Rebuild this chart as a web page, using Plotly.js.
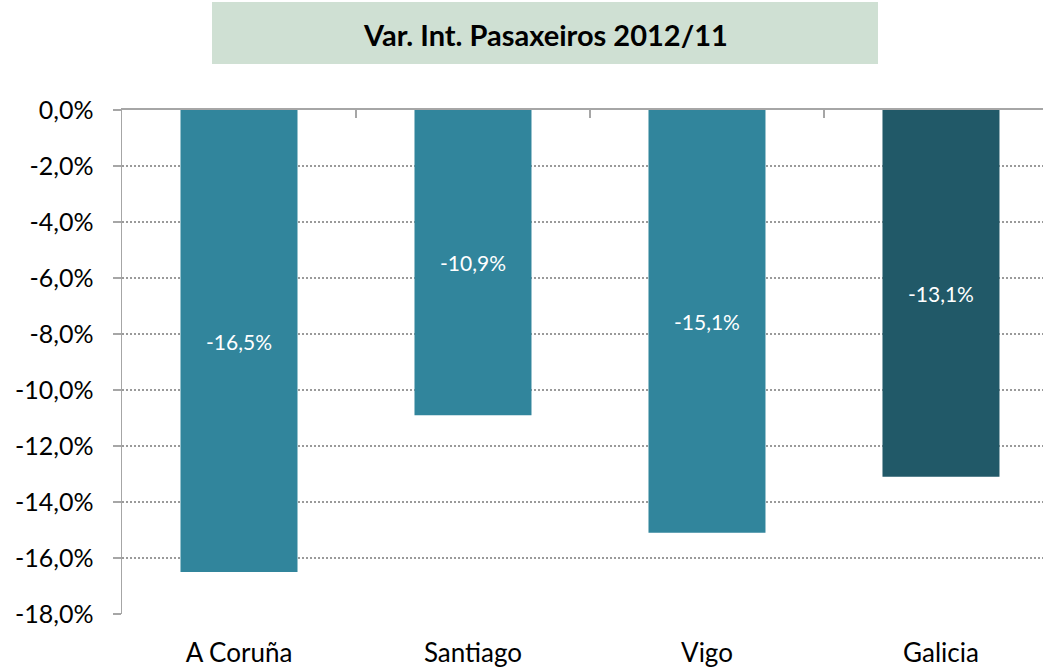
<!DOCTYPE html>
<html>
<head>
<meta charset="utf-8">
<script src="https://cdn.plot.ly/plotly-3.0.1.min.js"></script>
<style>html,body{margin:0;padding:0;background:#fff;}#chart{width:1043px;height:668px;}</style>
</head>
<body>
<div id="chart"></div>
<script>
const categories = ["A Coruña", "Santiago", "Vigo", "Galicia"];
const values = [-16.5, -10.9, -15.1, -13.1];
const valueLabels = ["-16,5%", "-10,9%", "-15,1%", "-13,1%"];
const barColors = ["#31859c", "#31859c", "#31859c", "#215968"];
const yTickVals = [0, -2, -4, -6, -8, -10, -12, -14, -16, -18];
const yTickText = ["0,0%", "-2,0%", "-4,0%", "-6,0%", "-8,0%", "-10,0%", "-12,0%", "-14,0%", "-16,0%", "-18,0%"];
const chartTitle = "Var. Int. Pasaxeiros 2012/11";

const font = "Lato, 'Open Sans', sans-serif";
const xRange = [-0.5, 3.436];

const data = [{
  type: "bar",
  x: [0, 1, 2, 3],
  y: values,
  width: 0.5,
  marker: {color: barColors, line: {width: 0}},
  text: valueLabels,
  textposition: "inside",
  insidetextanchor: "middle",
  textangle: 0,
  textfont: {family: font, size: 21, color: "#ffffff"},
  constraintext: "none",
  hoverinfo: "none"
}, {
  type: "scatter",
  x: [0],
  y: [0],
  xaxis: "x2",
  mode: "none",
  showlegend: false,
  hoverinfo: "none"
}];

const layout = {
  width: 1043,
  height: 668,
  margin: {l: 122, r: 0, t: 110, b: 54, pad: 0},
  paper_bgcolor: "#ffffff",
  plot_bgcolor: "#ffffff",
  showlegend: false,
  font: {family: font, color: "#000000"},
  xaxis: {
    range: xRange,
    tickvals: [0, 1, 2, 3],
    ticktext: categories,
    showline: false,
    showgrid: false,
    zeroline: false,
    ticks: "",
    tickfont: {family: font, size: 26, color: "#000"},
    ticklabelstandoff: 21,
    fixedrange: true
  },
  xaxis2: {
    overlaying: "x",
    side: "top",
    range: xRange,
    showline: true,
    linecolor: "#a6a6a6",
    linewidth: 2,
    ticks: "inside",
    ticklen: 8,
    tickwidth: 1.5,
    tickcolor: "#a6a6a6",
    tickvals: [-0.5, 0.5, 1.5, 2.5],
    showticklabels: false,
    showgrid: false,
    zeroline: false
  },
  yaxis: {
    range: [-18, 0],
    tickvals: yTickVals,
    ticktext: yTickText,
    showline: true,
    linecolor: "#a6a6a6",
    linewidth: 1.5,
    ticks: "outside",
    ticklen: 8,
    tickwidth: 1.5,
    tickcolor: "#a6a6a6",
    showgrid: true,
    gridcolor: "#9a9a9a",
    griddash: "2px,2px",
    gridwidth: 1.5,
    zeroline: false,
    tickfont: {family: font, size: 25, color: "#000"},
    ticklabelstandoff: 14,
    fixedrange: true
  },
  shapes: [{
    type: "rect",
    xref: "paper", yref: "paper",
    x0: (212 - 122) / 921, x1: (878 - 122) / 921,
    y0: 1 + (110 - 64) / 504, y1: 1 + (110 - 2) / 504,
    fillcolor: "#cfe0d3",
    line: {width: 0},
    layer: "below"
  }],
  annotations: [{
    xref: "paper", yref: "paper",
    x: (545 - 122) / 921, y: 1 + (110 - 34) / 504,
    xanchor: "center", yanchor: "middle",
    text: "<b>" + chartTitle + "</b>",
    showarrow: false,
    font: {family: font, size: 29, color: "#000"}
  }]
};

Plotly.newPlot("chart", data, layout, {displayModeBar: false, staticPlot: true});
</script>
</body>
</html>
